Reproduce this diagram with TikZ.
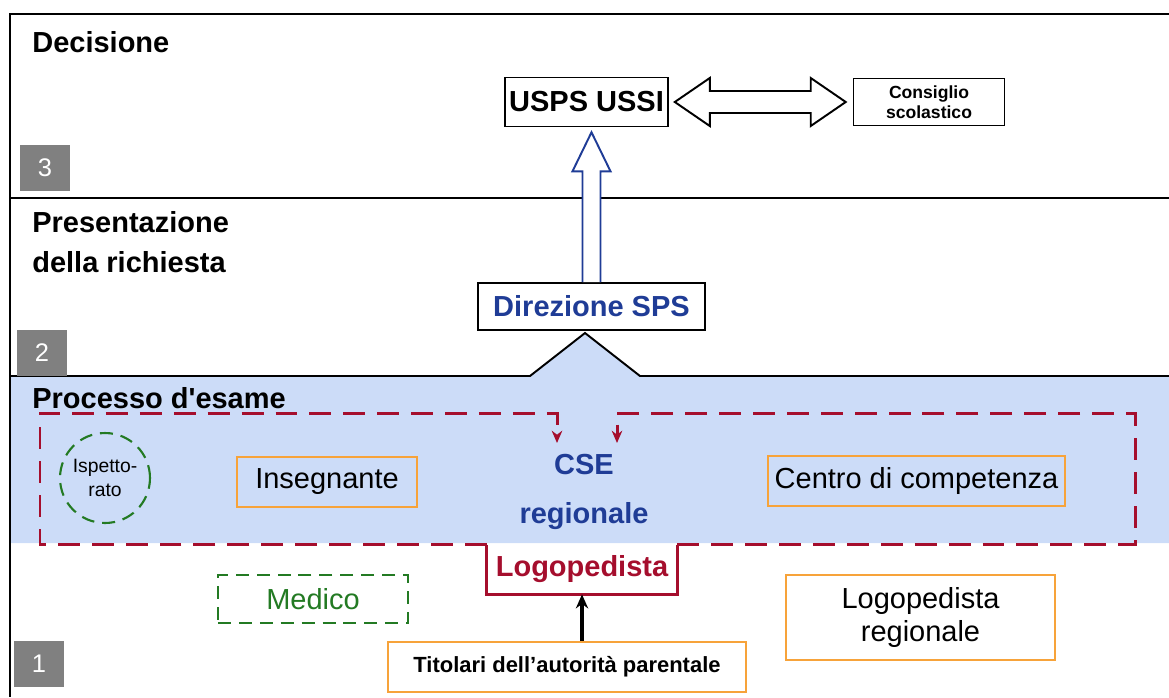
\documentclass[tikz,border=0pt]{standalone}
\usepackage{fontspec}
\setmainfont{Liberation Sans}
\usetikzlibrary{arrows.meta,positioning,calc}

\definecolor{bandblue}{HTML}{CCDCF8}
\definecolor{exred}{HTML}{A50E2D}
\definecolor{spsblue}{HTML}{1F3C96}
\definecolor{medgreen}{HTML}{237A23}
\definecolor{boxorange}{HTML}{F7A33A}
\definecolor{numgray}{HTML}{808080}

\tikzset{
  frameline/.style={line width=1.1pt},
  numbox/.style={fill=numgray,text=white,minimum width=1.0cm,minimum height=0.92cm,inner sep=0pt,font=\fontsize{14.5}{16}\selectfont},
  phase/.style={anchor=west,align=left,inner sep=0pt,font=\bfseries\fontsize{16.5}{22.7}\selectfont},
  plainbox/.style={draw,line width=0.9pt,inner sep=0pt,align=center},
  orangebox/.style={draw=boxorange,line width=1.2pt,inner sep=0pt,align=center,font=\fontsize{16.5}{18.7}\selectfont},
  greendash/.style={draw=medgreen,line width=1.2pt,dash pattern=on 7.4pt off 4.5pt},
  examline/.style={draw=exred,line width=1.7pt,dash pattern=on 12.5pt off 6.8pt},
  hollowarrow/.style={line width=1.1pt,line join=miter,fill=white},
}

\begin{document}
\begin{tikzpicture}[x=0.02cm,y=-0.02cm]
    \useasboundingbox (0,0) rectangle (1169,697);
    \fill[bandblue] (10,376) -- (530,376) -- (585,333) -- (640,376) -- (1169,376) -- (1169,543) -- (10,543) -- cycle;
    \draw[frameline] (1169,14) -- (10,14) -- (10,697);
    \draw[frameline] (10,198) -- (1169,198);
    \draw[frameline] (10,376) -- (530,376) -- (585,333) -- (640,376) -- (1169,376);

    \node[phase]  (ph3) at (32,42)   {Decisione};
    \node[phase]  (ph2) at (32,242)  {Presentazione\\della richiesta};
    \node[phase]  (ph1) at (32,398)  {Processo d\textquotesingle esame};
    \node[numbox] (n3)  at (45,168)  {3};
    \node[numbox] (n2)  at (42,353)  {2};
    \node[numbox] (n1)  at (39,664)  {1};

    \node[plainbox,minimum width=3.26cm,minimum height=0.98cm,font=\bfseries\fontsize{16.5}{19}\selectfont] (usps) at (586.5,102) {USPS USSI};
    \node[plainbox,minimum width=3.02cm,minimum height=0.94cm,font=\bfseries\fontsize{10}{11.3}\selectfont] (cons) [right=3.68cm of usps] {Consiglio\\scolastico};
    \node[plainbox,minimum width=4.54cm,minimum height=0.94cm,text=spsblue,font=\bfseries\fontsize{16.5}{19}\selectfont] (dir) at (591.5,306.5) {Direzione SPS};

    \node[circle,greendash,minimum size=1.8cm,inner sep=0pt,align=center,font=\fontsize{11}{13.6}\selectfont] (isp) at (105,478) {Ispetto-\\rato};
    \node[orangebox,minimum width=3.6cm,minimum height=1.0cm]  (ins)  at (327,482)   {Insegnante};
    \node[align=center,text=spsblue,font=\bfseries\fontsize{16.5}{28.3}\selectfont] (cse) at (584,492) {CSE\\regionale};
    \node[orangebox,minimum width=5.94cm,minimum height=1.0cm] (cdc)  at (916.5,481) {Centro di competenza};
    \node[greendash,text=medgreen,inner sep=0pt,minimum width=3.8cm,minimum height=0.96cm,font=\fontsize{16.5}{19}\selectfont] (med) at (313,599) {Medico};
    \node[inner sep=0pt,minimum width=3.8cm,minimum height=0.98cm,text=exred,font=\bfseries\fontsize{16.5}{19}\selectfont] (logo) at (582,569.5) {Logopedista};
    \node[orangebox,minimum width=5.38cm,minimum height=1.7cm] (logr) at (920.5,617.5) {Logopedista\\regionale};
    \node[orangebox,minimum width=7.16cm,minimum height=1.0cm,font=\bfseries\fontsize{12.5}{15}\selectfont] (tit) at (567,667) {Titolari dell'autorità parentale};

    \draw[draw=exred,line width=1.7pt] (logo.north west) |- (logo.south east) -- (logo.north east);
    \coordinate (fnw) at (40,413);
    \coordinate (fne) at (1135,413);
    \coordinate (cl)  at (557,443);
    \coordinate (cr)  at (617,443);
    \draw[examline,-{Stealth[length=7pt,width=6pt]}] (logo.north west) -| (fnw) -| (cl);
    \draw[examline,-{Stealth[length=7pt,width=6pt]}] (logo.north east) -| (fne) -| (cr);

    \draw[line width=1.8pt,-{Stealth[length=8pt,width=7pt]}] (tit.north -| logo.south) -- (logo.south);

    \coordinate (upb) at (dir.north);
    \coordinate (upt) at ($(dir.north |- usps.south)+(0,5)$);
    \draw[hollowarrow,draw=spsblue] ($(upb)+(-9,0)$) -- ($(upt)+(-9,39)$) -- ($(upt)+(-19,39)$) -- (upt)
        -- ($(upt)+(19,39)$) -- ($(upt)+(9,39)$) -- ($(upb)+(9,0)$);

    \coordinate (lt) at ($(usps.east)+(6,0)$);
    \coordinate (rt) at ($(cons.west |- usps.east)+(-7,0)$);
    \draw[hollowarrow] (lt) -- ($(lt)+(35,-24)$) -- ($(lt)+(35,-11)$) -- ($(rt)+(-35,-11)$) -- ($(rt)+(-35,-24)$)
        -- (rt) -- ($(rt)+(-35,24)$) -- ($(rt)+(-35,11)$) -- ($(lt)+(35,11)$) -- ($(lt)+(35,24)$) -- cycle;
\end{tikzpicture}
\end{document}
